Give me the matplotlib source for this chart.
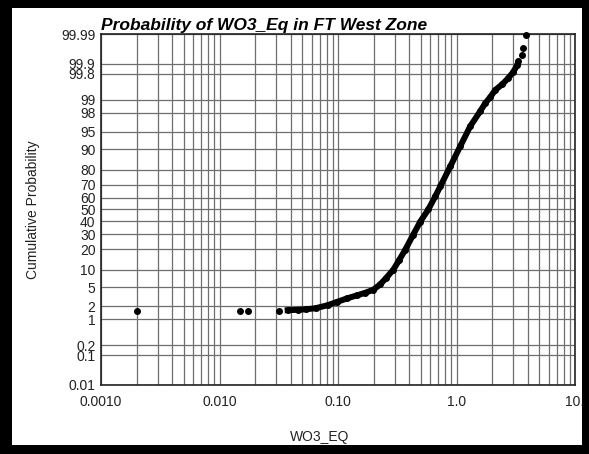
import matplotlib.pyplot as plt
import numpy as np
from matplotlib.patches import Rectangle
from matplotlib.ticker import FixedLocator, LogLocator, NullFormatter
from statistics import NormalDist

plt.rcParams['font.family'] = ['Liberation Sans', 'DejaVu Sans']

# isolated samples (WO3_EQ, cumulative probability %)
lone_x = [0.00201, 0.0148, 0.0173, 0.0316, 3.31, 3.58, 3.65, 3.87]
lone_p = [1.59, 1.59, 1.59, 1.59, 99.917, 99.947, 99.969, 99.989]

# dense body of the distribution
curve_x = [0.0376, 0.0456, 0.0532, 0.0646, 0.0816, 0.0990, 0.120, 0.146,
           0.170, 0.199, 0.228, 0.256, 0.293, 0.330, 0.370, 0.432, 0.495,
           0.578, 0.662, 0.730, 0.886, 1.075, 1.306, 1.585, 1.746, 1.924,
           2.12, 2.43, 2.73, 3.01, 3.25]
curve_p = [1.64, 1.68, 1.72, 1.82, 2.12, 2.53, 3.0, 3.46,
           3.89, 4.46, 5.67, 7.42, 10.1, 14.4, 19.8, 29.8, 39.9,
           50.0, 60.9, 68.8, 81.9, 90.97, 96.11, 98.13, 98.78, 99.13,
           99.43, 99.60, 99.73, 99.82, 99.889]

x_ticks = [0.001, 0.01, 0.1, 1.0, 10.0]
x_labels = ['0.0010', '0.010', '0.10', '1.0', '10.']
y_ticks = [0.01, 0.1, 0.2, 1, 2, 5, 10, 20, 30, 40, 50, 60, 70, 80, 90,
           95, 98, 99, 99.8, 99.9, 99.99]
y_labels = ['0.01', '0.1', '0.2', '1', '2', '5', '10', '20', '30', '40', '50',
            '60', '70', '80', '90', '95', '98', '99', '99.8', '99.9', '99.99']

nd = NormalDist()
_ppf = np.vectorize(lambda v: nd.inv_cdf(v / 100.0), otypes=[float])
_cdf = np.vectorize(lambda v: nd.cdf(v) * 100.0, otypes=[float])


def prob_fwd(p):
    p = np.clip(np.asarray(p, dtype=float), 1e-7, 100 - 1e-7)
    return _ppf(p)


def prob_inv(z):
    return _cdf(np.asarray(z, dtype=float))


fig = plt.figure(figsize=(5.89, 4.54), dpi=100)
fig.patch.set_facecolor('black')
# white sheet inside the thick black frame
fig.add_artist(Rectangle((12 / 589, 9 / 454), 570 / 589, 437 / 454,
                         transform=fig.transFigure, facecolor='white',
                         edgecolor='none', zorder=-1))

ax = fig.add_axes([101 / 589, 69 / 454, 474 / 589, 351 / 454])
ax.set_xscale('log')
ax.set_yscale('function', functions=(prob_fwd, prob_inv))
ax.set_xlim(0.001, 10)
ax.set_ylim(0.01, 99.99)

ax.xaxis.set_major_locator(FixedLocator(x_ticks))
ax.set_xticklabels(x_labels)
ax.xaxis.set_minor_locator(LogLocator(base=10, subs=np.arange(2, 10)))
ax.xaxis.set_minor_formatter(NullFormatter())
ax.yaxis.set_major_locator(FixedLocator(y_ticks))
ax.set_yticklabels(y_labels)
ax.yaxis.set_minor_locator(FixedLocator([]))

ax.tick_params(which='both', length=0, labelsize=10, labelcolor='#222222')
ax.tick_params(axis='x', pad=7)
ax.tick_params(axis='y', pad=4)
ax.grid(True, which='both', color='#6e6e6e', lw=0.9)
ax.set_axisbelow(True)
for s in ax.spines.values():
    s.set_color('#222222')
    s.set_linewidth(1.2)

ax.plot(curve_x, curve_p, '-o', color='black', lw=4.3, ms=4, zorder=3)
ax.plot(lone_x, lone_p, 'o', color='black', ms=4, zorder=3, clip_on=False)

ax.set_title('Probability of WO3_Eq in FT West Zone', loc='left',
             fontsize=12.5, fontweight='bold', fontstyle='italic', pad=3)
ax.set_xlabel('WO3_EQ', fontsize=10, color='#222222')
ax.xaxis.set_label_coords((320 - 101) / 474, -0.128)
ax.set_ylabel('Cumulative Probability', fontsize=10, color='#222222')
ax.yaxis.set_label_coords(-0.128, 0.5)

fig.savefig('out.png', dpi=100, facecolor=fig.get_facecolor())
